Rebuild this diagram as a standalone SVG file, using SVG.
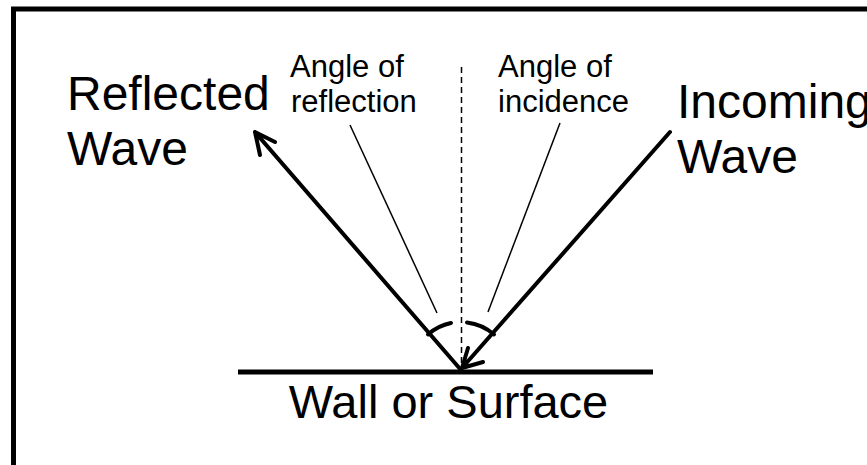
<svg xmlns="http://www.w3.org/2000/svg" width="867" height="465" viewBox="0 0 867 465">
<style>
  text { font-family: "Liberation Sans", Arial, sans-serif; fill: #000; }
  .big { font-size: 48px; }
  .small { font-size: 31px; }
  .thick { stroke: #000; stroke-width: 4; fill: none; stroke-linecap: round; stroke-linejoin: round; }
  .thin { stroke: #000; stroke-width: 1.5; fill: none; }
</style>
<rect width="867" height="465" fill="#fff"/>
<rect id="frame" x="13.5" y="9" width="900" height="500" fill="none" stroke="#000" stroke-width="5"/>
<g id="wall">
  <line x1="238" y1="372" x2="653" y2="372" stroke="#000" stroke-width="5"/>
  <text x="448.5" y="418" font-size="47" text-anchor="middle">Wall or Surface</text>
</g>
<g id="reflected-label">
  <text class="big" x="67" y="110">Reflected</text>
  <text class="big" x="67" y="165">Wave</text>
</g>
<g id="incoming-label">
  <text class="big" x="677" y="118">Incoming</text>
  <text class="big" x="677" y="173">Wave</text>
</g>
<g id="angle-reflection-label">
  <text class="small" x="290" y="77">Angle of</text>
  <text class="small" x="291" y="112">reflection</text>
</g>
<g id="angle-incidence-label">
  <text class="small" x="498" y="77">Angle of</text>
  <text class="small" x="498" y="112">incidence</text>
</g>
<g id="connectors">
  <line x1="461.5" y1="67" x2="461.5" y2="370" stroke="#000" stroke-width="1.5" stroke-dasharray="6,4"/>
  <line class="thin" x1="350" y1="125" x2="437" y2="313"/>
  <line class="thin" x1="560" y1="123" x2="488" y2="312"/>
  <path class="thick" d="M 461 370 L 255 132 M 260 155 L 255 132 L 275 142"/>
  <path class="thick" d="M 670 132 L 462 368 M 468 348 L 462 368 L 483 362"/>
  <path class="thick" stroke-linecap="butt" d="M 428 334.4 A 50 50 0 0 1 451 323"/>
  <path class="thick" stroke-linecap="butt" d="M 467 322.4 A 50 50 0 0 1 494 334.4"/>
</g>
</svg>
